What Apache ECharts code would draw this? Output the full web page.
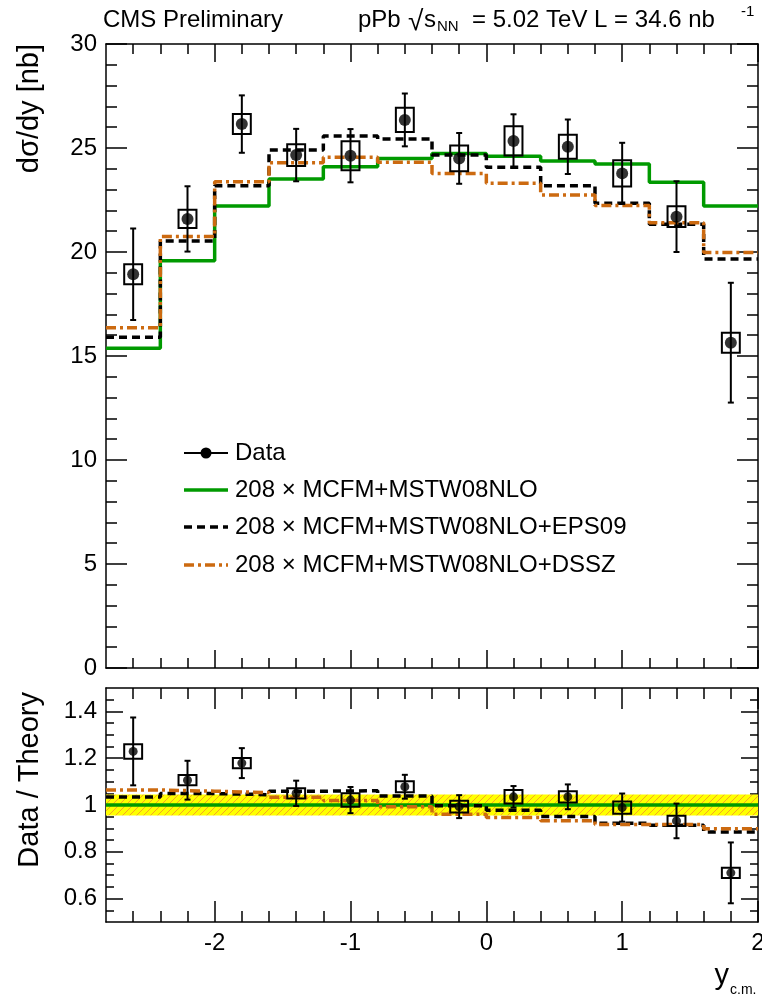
<!DOCTYPE html>
<html>
<head>
<meta charset="utf-8">
<script src="https://cdn.jsdelivr.net/npm/echarts@6/dist/echarts.min.js"></script>
<style>
html, body { margin: 0; padding: 0; background: #fff; }
#chart { width: 762px; height: 1002px; }
</style>
</head>
<body>
<div id="chart"></div>
<script>
// ---- W boson rapidity bins (y_c.m.) ----
const binEdges   = [-2.8, -2.4, -2.0, -1.6, -1.2, -0.8, -0.4, 0.0, 0.4, 0.8, 1.2, 1.6, 2.0];
const binCenters = [-2.6, -2.2, -1.8, -1.4, -1.0, -0.6, -0.2, 0.2, 0.6, 1.0, 1.4, 1.8];

// ---- measured dσ/dy [nb] ----
const dataXsec = [18.93, 21.59, 26.15, 24.66, 24.63, 26.35, 24.50, 25.34, 25.06, 23.78, 21.70, 15.64];
const dataStat = [2.20, 1.57, 1.38, 1.26, 1.28, 1.27, 1.22, 1.28, 1.31, 1.47, 1.70, 2.88];
const dataSyst = [0.48, 0.44, 0.48, 0.52, 0.70, 0.58, 0.62, 0.70, 0.58, 0.63, 0.50, 0.48];

// ---- theory predictions, 208 x MCFM ----
const thMSTW  = [15.37, 19.58, 22.21, 23.51, 24.10, 24.50, 24.74, 24.60, 24.38, 24.23, 23.35, 22.21];
const thEPS09 = [15.90, 20.53, 23.19, 24.90, 25.58, 25.43, 24.66, 24.07, 23.19, 22.34, 21.33, 19.66];
const thDSSZ  = [16.36, 20.74, 23.38, 24.29, 24.55, 24.32, 23.78, 23.30, 22.74, 22.23, 21.41, 19.97];

// ---- ratio panel: Data / Theory (MSTW08NLO reference) ----
const ratioData  = [1.229, 1.106, 1.179, 1.050, 1.021, 1.078, 0.993, 1.035, 1.035, 0.989, 0.932, 0.710];
const ratioStat  = [0.145, 0.083, 0.064, 0.054, 0.056, 0.051, 0.049, 0.046, 0.053, 0.060, 0.074, 0.130];
const ratioSyst  = [0.031, 0.022, 0.022, 0.022, 0.029, 0.024, 0.025, 0.029, 0.024, 0.026, 0.022, 0.022];
const ratioEPS09 = [1.034, 1.049, 1.044, 1.059, 1.061, 1.038, 0.997, 0.978, 0.951, 0.922, 0.913, 0.885];
const ratioDSSZ  = [1.064, 1.059, 1.053, 1.033, 1.019, 0.993, 0.961, 0.947, 0.933, 0.917, 0.917, 0.899];
const ratioMSTW  = [1.0, 1.0];
const lumiBand   = [0.955, 1.045];

// ---- axis ticks ----
const xMajor = [-2, -1, 0, 1, 2];
const xMinor = [-2.6, -2.4, -2.2, -1.8, -1.6, -1.4, -1.2, -0.8, -0.6, -0.4, -0.2,
                0.2, 0.4, 0.6, 0.8, 1.2, 1.4, 1.6, 1.8];
const yTopMajor = [0, 5, 10, 15, 20, 25, 30];
const yTopMinor = [1, 2, 3, 4, 6, 7, 8, 9, 11, 12, 13, 14, 16, 17, 18, 19,
                   21, 22, 23, 24, 26, 27, 28, 29];
const yBotMajor = [0.6, 0.8, 1.0, 1.2, 1.4];
const yBotMinor = [0.55, 0.65, 0.7, 0.75, 0.85, 0.9, 0.95, 1.05, 1.1, 1.15,
                   1.25, 1.3, 1.35, 1.45];

// ---- styling ----
const FONT = '"Liberation Sans", Arial, Helvetica, sans-serif';
const GREEN = '#009a00';
const ORANGE = '#cc6a10';
const FRAME = { color: '#000', width: 1.5 };
const BOX_HALF_W = 0.066;   // systematic box half width, in rapidity units

// histogram outline points (left edge of every bin, plus the last right edge)
function histPoints(vals) {
  const pts = vals.map((v, i) => [binEdges[i], v]);
  pts.push([binEdges[binEdges.length - 1], vals[vals.length - 1]]);
  return pts;
}

// a pair of axes on one side: the major-tick axis (with frame line and labels) and a minor-tick axis
function axisSet(grid, pos, min, max, major, minor, majLen, minLen, withLabels, labelMargin) {
  const base = { type: 'value', gridIndex: grid, min: min, max: max, position: pos,
                 splitLine: { show: false }, silent: true };
  const main = Object.assign({}, base, {
    axisLine: { show: true, onZero: false, lineStyle: FRAME },
    axisTick: { show: true, inside: true, length: majLen, customValues: major, lineStyle: FRAME },
    axisLabel: withLabels
      ? { show: true, customValues: major, fontFamily: FONT, fontSize: 24, color: '#000', margin: labelMargin }
      : { show: false }
  });
  const sub = Object.assign({}, base, {
    axisLine: { show: false, onZero: false },
    axisTick: { show: true, inside: true, length: minLen, customValues: minor, lineStyle: FRAME },
    axisLabel: { show: false }
  });
  return [main, sub];
}

const xAxes = [].concat(
  axisSet(0, 'bottom', -2.8, 2.0, xMajor, xMinor, 18, 10, false),
  axisSet(0, 'top',    -2.8, 2.0, xMajor, xMinor, 18, 10, false),
  axisSet(1, 'bottom', -2.8, 2.0, xMajor, xMinor, 21, 11, true, 9),
  axisSet(1, 'top',    -2.8, 2.0, xMajor, xMinor, 21, 11, false)
);
const yAxes = [].concat(
  axisSet(0, 'left',  0, 30, yTopMajor, yTopMinor, 21, 11, true, 9),
  axisSet(0, 'right', 0, 30, yTopMajor, yTopMinor, 21, 11, false),
  axisSet(1, 'left',  0.5, 1.5, yBotMajor, yBotMinor, 17, 8, true, 9),
  axisSet(1, 'right', 0.5, 1.5, yBotMajor, yBotMinor, 17, 8, false)
);

// data point: statistical error bar with end caps and a systematic box
function errorBoxItem(params, api) {
  const x = api.value(0), y = api.value(1), e = api.value(2), s = api.value(3);
  const top = api.coord([x, y + e]);
  const bot = api.coord([x, y - e]);
  const tl = api.coord([x - BOX_HALF_W, y + s]);
  const br = api.coord([x + BOX_HALF_W, y - s]);
  const st = { stroke: '#000', lineWidth: 2, fill: null };
  return {
    type: 'group',
    children: [
      { type: 'line', shape: { x1: top[0], y1: top[1], x2: bot[0], y2: bot[1] }, style: st },
      { type: 'line', shape: { x1: top[0] - 3, y1: top[1], x2: top[0] + 3, y2: top[1] }, style: st },
      { type: 'line', shape: { x1: bot[0] - 3, y1: bot[1], x2: bot[0] + 3, y2: bot[1] }, style: st },
      { type: 'rect', shape: { x: tl[0], y: tl[1], width: br[0] - tl[0], height: br[1] - tl[1] },
        style: { stroke: '#000', lineWidth: 2, fill: 'none' } }
    ]
  };
}

// hatched yellow luminosity band
function hatchCanvas() {
  const c = document.createElement('canvas');
  c.width = 7; c.height = 7;
  const g = c.getContext('2d');
  g.fillStyle = '#ffff00';
  g.fillRect(0, 0, 7, 7);
  g.strokeStyle = '#f5a623';
  g.lineWidth = 1;
  g.beginPath();
  g.moveTo(-1, 8); g.lineTo(8, -1);
  g.moveTo(-4.5, 4.5); g.lineTo(4.5, -4.5);
  g.moveTo(2.5, 11.5); g.lineTo(11.5, 2.5);
  g.stroke();
  return c;
}
const hatch = hatchCanvas();
function bandItem(params, api) {
  const tl = api.coord([api.value(0), api.value(3)]);
  const br = api.coord([api.value(1), api.value(2)]);
  return { type: 'rect', shape: { x: tl[0], y: tl[1], width: br[0] - tl[0], height: br[1] - tl[1] },
           style: { fill: { image: hatch, repeat: 'repeat' } } };
}

const topPoints = binCenters.map((c, i) => [c, dataXsec[i], dataStat[i], dataSyst[i]]);
const botPoints = binCenters.map((c, i) => [c, ratioData[i], ratioStat[i], ratioSyst[i]]);

const stepLine = (name, xi, yi, pts, color, type, z) => ({
  name: name, type: 'line', xAxisIndex: xi, yAxisIndex: yi, step: 'end', data: pts,
  showSymbol: false, symbol: 'none', z: z, silent: true,
  lineStyle: { color: color, width: 3.5, type: type, cap: 'butt' }
});

const series = [
  // upper panel
  stepLine('208 × MCFM+MSTW08NLO', 0, 0, histPoints(thMSTW), GREEN, 'solid', 3),
  stepLine('208 × MCFM+MSTW08NLO+EPS09', 0, 0, histPoints(thEPS09), '#000', [8, 5], 4),
  stepLine('208 × MCFM+MSTW08NLO+DSSZ', 0, 0, histPoints(thDSSZ), ORANGE, [10, 4, 3, 4], 4),
  { name: 'Data', type: 'custom', xAxisIndex: 0, yAxisIndex: 0, renderItem: errorBoxItem,
    data: topPoints, encode: { x: 0, y: 1 }, z: 5, silent: true },
  { name: 'Data', type: 'scatter', xAxisIndex: 0, yAxisIndex: 0, symbol: 'circle', symbolSize: 12,
    itemStyle: { color: '#000' }, data: topPoints.map(p => [p[0], p[1]]), z: 6, silent: true },

  // lower panel
  { type: 'custom', xAxisIndex: 4, yAxisIndex: 4, renderItem: bandItem,
    data: [[binEdges[0], binEdges[binEdges.length - 1], lumiBand[0], lumiBand[1]]],
    encode: { x: [0, 1], y: [2, 3] }, z: 1, silent: true },
  { type: 'line', xAxisIndex: 4, yAxisIndex: 4, showSymbol: false, symbol: 'none', z: 3, silent: true,
    data: [[binEdges[0], ratioMSTW[0]], [binEdges[binEdges.length - 1], ratioMSTW[1]]],
    lineStyle: { color: GREEN, width: 3.5 } },
  stepLine('', 4, 4, histPoints(ratioEPS09), '#000', [8, 5], 4),
  stepLine('', 4, 4, histPoints(ratioDSSZ), ORANGE, [10, 4, 3, 4], 4),
  { type: 'custom', xAxisIndex: 4, yAxisIndex: 4, renderItem: errorBoxItem,
    data: botPoints, encode: { x: 0, y: 1 }, z: 5, silent: true },
  { type: 'scatter', xAxisIndex: 4, yAxisIndex: 4, symbol: 'circle', symbolSize: 9,
    itemStyle: { color: '#000' }, data: botPoints.map(p => [p[0], p[1]]), z: 6, silent: true }
];

const txt = (x, y, text, size, extra) => ({
  type: 'text', x: x, y: y, silent: true,
  style: Object.assign({ text: text, fontFamily: FONT, fontSize: size, fill: '#000',
                         align: 'left', verticalAlign: 'middle' }, extra || {})
});
const seg = (x1, y1, x2, y2, stroke, width, dash) => ({
  type: 'line', silent: true, shape: { x1: x1, y1: y1, x2: x2, y2: y2 },
  style: { stroke: stroke, lineWidth: width, lineDash: dash || null }
});

const graphic = [
  // header
  txt(103, 20, 'CMS Preliminary', 24),
  txt(358, 20, 'pPb', 24),
  txt(408, 22, '√', 28),
  txt(424, 20, 's', 24),
  txt(437, 27, 'NN', 15),
  txt(472, 20, '= 5.02 TeV L = 34.6 nb', 24),
  txt(741, 12, '-1', 15),

  // axis titles
  Object.assign(txt(30, 44, 'dσ/dy [nb]', 29, { align: 'right' }), { rotation: Math.PI / 2 }),
  Object.assign(txt(30, 692, 'Data / Theory', 29, { align: 'right' }), { rotation: Math.PI / 2 }),
  txt(729, 976, 'y', 29, { align: 'right' }),
  txt(730, 990, 'c.m.', 14),

  // legend
  seg(184, 453, 228, 453, '#000', 2),
  { type: 'circle', silent: true, shape: { cx: 206, cy: 453, r: 5.5 }, style: { fill: '#000' } },
  txt(235, 453, 'Data', 24),
  seg(184, 490, 228, 490, GREEN, 3.5),
  txt(235, 490, '208 × MCFM+MSTW08NLO', 24),
  seg(184, 527, 228, 527, '#000', 3.5, [8, 5]),
  txt(235, 527, '208 × MCFM+MSTW08NLO+EPS09', 24),
  seg(184, 565, 228, 565, ORANGE, 3.5, [10, 4, 3, 4]),
  txt(235, 565, '208 × MCFM+MSTW08NLO+DSSZ', 24)
];

const chart = echarts.init(document.getElementById('chart'), null, { renderer: 'canvas' });
chart.setOption({
  animation: false,
  backgroundColor: '#fff',
  grid: [
    { left: 106, top: 44, width: 652, height: 624, outerBoundsMode: 'none', containLabel: false },
    { left: 106, top: 688, width: 652, height: 234, outerBoundsMode: 'none', containLabel: false }
  ],
  xAxis: xAxes,
  yAxis: yAxes,
  series: series,
  graphic: graphic
});
</script>
</body>
</html>
